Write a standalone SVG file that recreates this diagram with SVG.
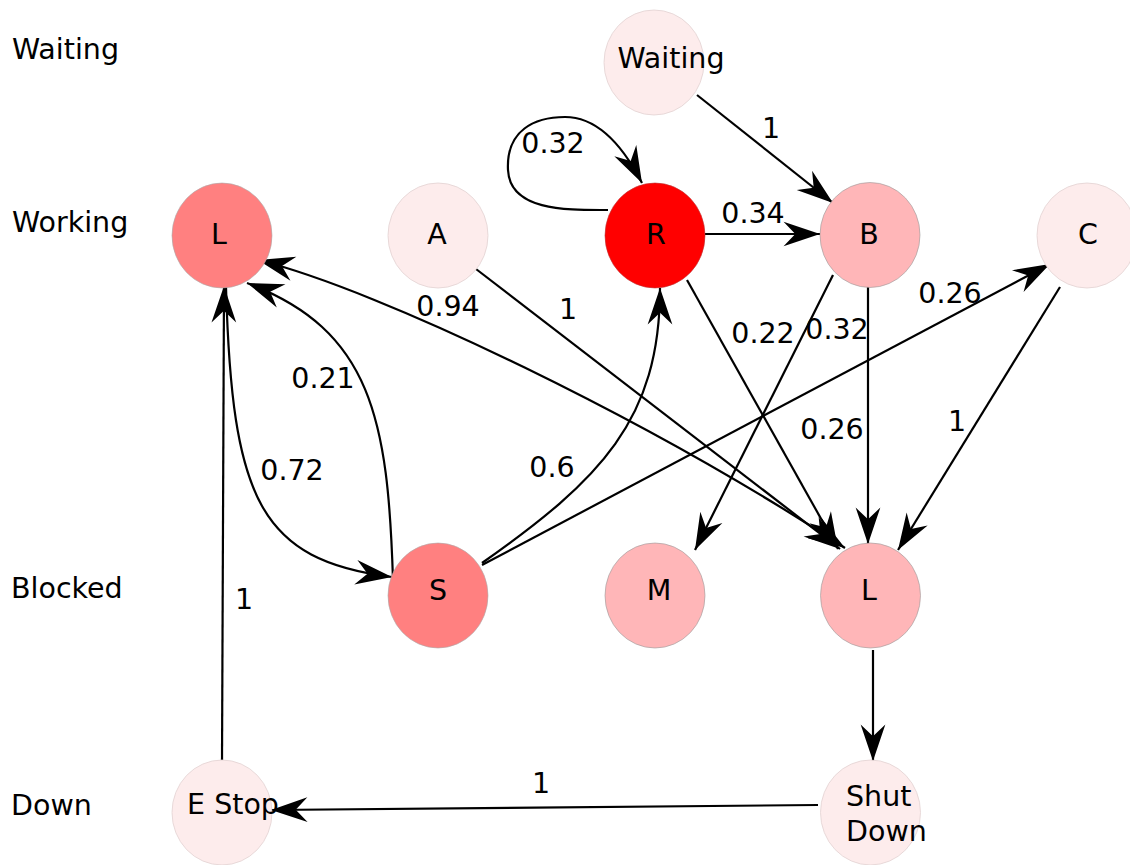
<svg xmlns="http://www.w3.org/2000/svg" width="1130" height="865" viewBox="0 0 1130 865">
  <defs>
    <marker id="arrow" markerUnits="userSpaceOnUse" markerWidth="40" markerHeight="30" viewBox="-32 -12 34 24" refX="0" refY="0" orient="auto-start-reverse">
      <path d="M0,0 L-31,-10.5 L-21,0 L-31,10.5 Z" fill="#000"/>
    </marker>
  </defs>
  <style>
    text { font-family: "DejaVu Sans", Verdana, sans-serif; font-size: 28.5px; fill: #000; }
    .mid { text-anchor: middle; }
    .edge { fill: none; stroke: #000; stroke-width: 2.2; }
    .arr { marker-end: url(#arrow); }
    .both { marker-start: url(#arrow); marker-end: url(#arrow); }
    .hot { fill: #ff0000; stroke: #b33; stroke-width: 0.6; }
    .warm { fill: #ff8080; stroke: #aaa; stroke-width: 0.6; }
    .soft { fill: #ffb6b8; stroke: #999; stroke-width: 0.6; }
    .pale { fill: #fdecec; stroke: #e2d2d2; stroke-width: 0.8; }
  </style>
  <rect width="1130" height="865" fill="#fff"/>

  <!-- row captions -->
  <g id="rows">
    <text x="12" y="59">Waiting</text>
    <text x="12" y="232">Working</text>
    <text x="11" y="598">Blocked</text>
    <text x="11" y="815">Down</text>
  </g>

  <!-- connectors -->
  <g id="connectors">
    <path class="edge arr" d="M697,95 L833,203"/>
    <path class="edge arr" d="M608,210 C570,210 510,212 508,170 C506,130 535,117 565,117 C600,117 625,150 642,183"/>
    <path class="edge arr" d="M705,234 L820,234"/>
    <path class="edge arr" d="M687,280 L838,549"/>
    <path class="edge arr" d="M833,275 L695,550"/>
    <path class="edge arr" d="M868,287 L868,544"/>
    <path class="edge arr" d="M1060,287 L898,550"/>
    <path class="edge arr" d="M476,269 L840,549"/>
    <path class="edge both" d="M258,260 C380,290 650,420 845,548"/>
    <path class="edge arr" d="M482,565 L1050,264"/>
    <path class="edge arr" d="M482,563 C600,480 660,420 660,288"/>
    <path class="edge arr" d="M226,287 C232,500 260,560 392,577"/>
    <path class="edge arr" d="M393,580 C388,420 372,330 247,283"/>
    <path class="edge arr" d="M222,760 L224,286"/>
    <path class="edge arr" d="M873,650 L873,761"/>
    <path class="edge arr" d="M818,805 L271,810"/>

    <text x="771" y="138" class="mid">1</text>
    <text x="553" y="153" class="mid">0.32</text>
    <text x="753" y="223" class="mid">0.34</text>
    <text x="448" y="316" class="mid">0.94</text>
    <text x="568" y="319" class="mid">1</text>
    <text x="763" y="343" class="mid">0.22</text>
    <text x="837" y="339" class="mid">0.32</text>
    <text x="950" y="303" class="mid">0.26</text>
    <text x="323" y="388" class="mid">0.21</text>
    <text x="292" y="480" class="mid">0.72</text>
    <text x="552" y="477" class="mid">0.6</text>
    <text x="832" y="439" class="mid">0.26</text>
    <text x="957" y="431" class="mid">1</text>
    <text x="244" y="609" class="mid">1</text>
    <text x="541" y="793" class="mid">1</text>
  </g>

  <!-- states -->
  <g id="node-waiting">
    <ellipse class="pale" cx="654" cy="62.5" rx="50" ry="52.5"/>
    <text x="671" y="68" class="mid">Waiting</text>
  </g>
  <g id="node-l-working">
    <ellipse class="warm" cx="222" cy="235.5" rx="50" ry="52.5"/>
    <text x="219" y="244" class="mid">L</text>
  </g>
  <g id="node-a">
    <ellipse class="pale" cx="438" cy="235.5" rx="50" ry="52.5"/>
    <text x="437" y="244" class="mid">A</text>
  </g>
  <g id="node-r">
    <ellipse class="hot" cx="655" cy="235.5" rx="50" ry="52.5"/>
    <text x="656" y="244" class="mid">R</text>
  </g>
  <g id="node-b">
    <ellipse class="soft" cx="870" cy="235" rx="50" ry="52.5"/>
    <text x="869" y="244" class="mid">B</text>
  </g>
  <g id="node-c">
    <ellipse class="pale" cx="1087" cy="235.5" rx="50" ry="52.5"/>
    <text x="1088" y="244" class="mid">C</text>
  </g>
  <g id="node-s">
    <ellipse class="warm" cx="438" cy="595.5" rx="50" ry="52.5"/>
    <text x="438" y="600" class="mid">S</text>
  </g>
  <g id="node-m">
    <ellipse class="soft" cx="655" cy="595.5" rx="50" ry="52.5"/>
    <text x="659" y="600" class="mid">M</text>
  </g>
  <g id="node-l-blocked">
    <ellipse class="soft" cx="870.5" cy="595.5" rx="50" ry="52.5"/>
    <text x="869" y="600" class="mid">L</text>
  </g>
  <g id="node-estop">
    <ellipse class="pale" cx="222" cy="812.5" rx="50" ry="52.5"/>
    <text x="233" y="814" class="mid">E Stop</text>
  </g>
  <g id="node-shutdown">
    <ellipse class="pale" cx="870.5" cy="812.5" rx="50" ry="52.5"/>
    <text x="846" y="806">Shut</text>
    <text x="846" y="841">Down</text>
  </g>
</svg>
